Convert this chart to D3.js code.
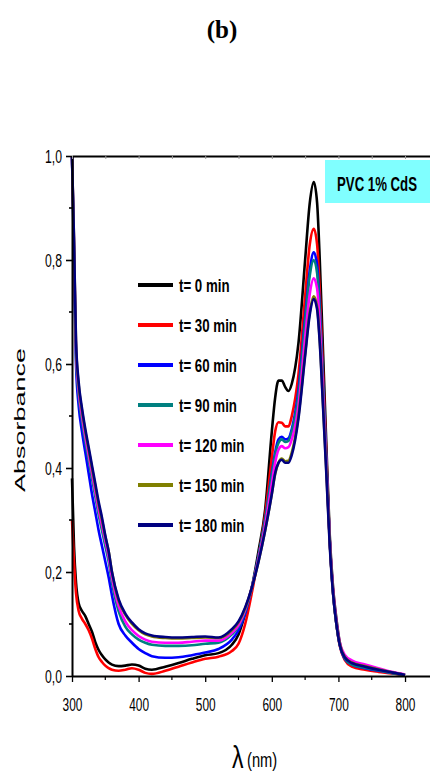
<!DOCTYPE html>
<html>
<head>
<meta charset="utf-8">
<script src="https://cdn.jsdelivr.net/npm/d3@7"></script>
<style>
  html, body { margin: 0; padding: 0; background: #fff; }
  svg { display: block; }
</style>
</head>
<body>
<svg id="chart" width="430" height="776"></svg>
<script>
// Wavelength grid (nm) shared by every spectrum
const wavelengths = [300,303,306,310,315,320,325,330,335,340,345,350,355,360,370,380,390,400,410,420,440,460,480,500,520,540,550,560,570,580,590,600,605,610,615,620,625,630,640,650,657,663,668,672,677,682,687,692,697,702,710,720,740,760,780,800];

const seriesNames = ["t= 0 min","t= 30 min","t= 60 min","t= 90 min","t= 120 min","t= 150 min","t= 180 min"];
const seriesColors = ["#000000","#ff0000","#0000ff","#008080","#ff00ff","#808000","#000080"];

const abs0 = [0.38,0.25,0.18,0.14,0.125,0.115,0.10,0.085,0.065,0.05,0.04,0.032,0.026,0.022,0.019,0.02,0.022,0.02,0.014,0.012,0.018,0.025,0.033,0.04,0.044,0.06,0.08,0.12,0.17,0.24,0.32,0.47,0.535,0.568,0.568,0.556,0.548,0.562,0.64,0.80,0.91,0.95,0.91,0.80,0.62,0.44,0.27,0.17,0.11,0.065,0.035,0.025,0.017,0.012,0.007,0.002];
const abs30 = [0.30,0.22,0.16,0.125,0.11,0.10,0.088,0.072,0.052,0.036,0.027,0.02,0.015,0.012,0.01,0.012,0.015,0.012,0.006,0.004,0.01,0.018,0.026,0.033,0.037,0.048,0.062,0.10,0.16,0.23,0.31,0.42,0.47,0.488,0.487,0.48,0.48,0.50,0.58,0.73,0.83,0.86,0.83,0.74,0.58,0.42,0.26,0.16,0.10,0.058,0.03,0.018,0.012,0.008,0.005,0.001];
const abs60 = [1.0,0.80,0.60,0.52,0.47,0.43,0.39,0.35,0.315,0.28,0.25,0.22,0.19,0.155,0.10,0.078,0.064,0.052,0.044,0.038,0.035,0.036,0.04,0.045,0.052,0.07,0.088,0.12,0.17,0.23,0.30,0.39,0.43,0.455,0.46,0.455,0.457,0.475,0.55,0.69,0.78,0.815,0.79,0.71,0.56,0.41,0.26,0.16,0.10,0.06,0.032,0.022,0.015,0.01,0.006,0.002];
const abs90 = [1.0,0.82,0.62,0.54,0.49,0.45,0.415,0.38,0.345,0.31,0.28,0.25,0.22,0.18,0.125,0.095,0.08,0.07,0.064,0.06,0.058,0.058,0.059,0.062,0.064,0.08,0.095,0.125,0.17,0.23,0.30,0.385,0.425,0.448,0.455,0.45,0.452,0.47,0.54,0.68,0.77,0.80,0.775,0.70,0.555,0.41,0.26,0.16,0.10,0.06,0.033,0.022,0.016,0.011,0.006,0.002];
const abs120 = [1.0,0.83,0.63,0.55,0.50,0.46,0.425,0.39,0.355,0.32,0.29,0.26,0.23,0.19,0.135,0.105,0.088,0.077,0.07,0.066,0.064,0.064,0.066,0.068,0.068,0.083,0.098,0.128,0.17,0.225,0.29,0.37,0.41,0.435,0.442,0.438,0.44,0.455,0.52,0.65,0.735,0.765,0.745,0.675,0.54,0.40,0.26,0.165,0.105,0.065,0.04,0.03,0.022,0.015,0.008,0.003];
const abs150 = [1.0,0.84,0.64,0.56,0.51,0.47,0.435,0.40,0.365,0.33,0.30,0.268,0.24,0.20,0.145,0.118,0.10,0.088,0.08,0.076,0.073,0.072,0.073,0.074,0.073,0.088,0.103,0.13,0.17,0.22,0.28,0.35,0.388,0.41,0.418,0.413,0.414,0.43,0.50,0.62,0.70,0.73,0.71,0.645,0.52,0.39,0.255,0.16,0.10,0.062,0.036,0.026,0.019,0.013,0.007,0.002];
const abs180 = [1.0,0.84,0.645,0.565,0.515,0.475,0.44,0.405,0.37,0.335,0.305,0.27,0.24,0.20,0.148,0.12,0.103,0.09,0.082,0.078,0.075,0.074,0.075,0.076,0.074,0.09,0.105,0.132,0.17,0.22,0.28,0.35,0.39,0.41,0.416,0.41,0.41,0.425,0.495,0.615,0.695,0.725,0.705,0.64,0.515,0.385,0.25,0.158,0.10,0.06,0.035,0.025,0.018,0.012,0.007,0.002];

const seriesValues = [abs0, abs30, abs60, abs90, abs120, abs150, abs180];

const xMajorTicks = [300,400,500,600,700,800];
const xMinorTicks = [350,450,550,650,750];
const yMajorTicks = [0,0.2,0.4,0.6,0.8,1.0];
const yMinorTicks = [0.1,0.3,0.5,0.7,0.9];

const svg = d3.select("#chart");
const plotLeft = 72, plotRight = 430, plotTop = 156, plotBottom = 676;

const x = d3.scaleLinear().domain([300, 837.5]).range([plotLeft, plotRight]);
const y = d3.scaleLinear().domain([0, 1]).range([plotBottom, plotTop]);

const sans = "'Liberation Sans',Arial,Helvetica,sans-serif";
const narrow = 0.66;   // horizontal squeeze for the condensed lettering
const commaFmt = d => d3.format(".1f")(d).replace(".", ",");

// Condensed text placed at (px, py)
function narrowText(parent, px, py, str, opts = {}) {
  const g = parent.append("g")
    .attr("transform", `translate(${px},${py}) scale(${opts.sx || narrow},1)`);
  return g.append("text")
    .attr("text-anchor", opts.anchor || "start")
    .attr("font-family", sans)
    .attr("font-weight", opts.weight || "normal")
    .attr("font-size", opts.size || 16)
    .attr("fill", "#000")
    .text(str);
}

// Title
svg.append("text")
  .attr("x", 222).attr("y", 38)
  .attr("text-anchor", "middle")
  .attr("font-family", "'Liberation Serif','Times New Roman',serif")
  .attr("font-weight", "bold").attr("font-size", 25)
  .text("(b)");

// Spectra
const line = d3.line()
  .x((d, i) => x(wavelengths[i]))
  .y(d => y(d))
  .curve(d3.curveMonotoneX);

svg.append("g").selectAll("path")
  .data(seriesValues)
  .join("path")
  .attr("d", d => line(d))
  .attr("fill", "none")
  .attr("stroke", (d, i) => seriesColors[i])
  .attr("stroke-width", 2.6)
  .attr("stroke-linejoin", "round");

// Bottom axis
const gx = svg.append("g").attr("transform", `translate(0,${plotBottom})`)
  .call(d3.axisBottom(x).tickValues(xMajorTicks).tickSize(6).tickSizeOuter(0).tickPadding(10));
gx.select(".domain").attr("stroke-width", 2.2);
gx.selectAll(".tick line").attr("stroke-width", 1.3);
gx.selectAll(".tick text")
  .attr("font-family", sans).attr("font-size", 18).attr("fill", "#000")
  .attr("y", 0).attr("dy", 0)
  .attr("transform", `translate(0,35) scale(${narrow},1)`);
gx.append("g").selectAll("line").data(xMinorTicks).join("line")
  .attr("x1", d => x(d)).attr("x2", d => x(d))
  .attr("y1", 0).attr("y2", 4).attr("stroke", "#000").attr("stroke-width", 1.2);

// Left axis
const gy = svg.append("g").attr("transform", `translate(${plotLeft},0)`)
  .call(d3.axisLeft(y).tickValues(yMajorTicks).tickFormat(commaFmt).tickSize(6).tickSizeOuter(0));
gy.select(".domain").attr("stroke-width", 2);
gy.selectAll(".tick line").attr("stroke-width", 1.6);
gy.selectAll(".tick text")
  .attr("font-family", sans).attr("font-size", 18.5).attr("fill", "#000")
  .attr("x", 0).attr("dy", 0)
  .attr("transform", `translate(-10,6.5) scale(${narrow},1)`);
gy.append("g").selectAll("line").data(yMinorTicks).join("line")
  .attr("x1", 0).attr("x2", -3)
  .attr("y1", d => y(d)).attr("y2", d => y(d)).attr("stroke", "#000").attr("stroke-width", 1.6);

// Top frame line with small inner ticks
const gt = svg.append("g").attr("transform", `translate(0,${plotTop})`)
  .call(d3.axisTop(x).tickValues(xMajorTicks.concat(xMinorTicks)).tickSize(-3).tickSizeOuter(0).tickFormat(""));
gt.select(".domain").attr("stroke-width", 2.2);
gt.selectAll(".tick line").attr("stroke", "#999").attr("stroke-width", 1);

// Axis titles
svg.append("g")
  .attr("transform", `translate(25,${(plotTop + plotBottom) / 2 + 4}) rotate(-90) scale(1,0.55)`)
  .append("text")
  .attr("text-anchor", "middle")
  .attr("font-family", sans)
  .attr("font-size", 27)
  .text("Absorbance");

narrowText(svg, 232, 768, "λ", { size: 32, sx: 0.72 });
narrowText(svg, 247, 767, "(nm)", { size: 21, sx: 0.7 });

// Legend
const legend = svg.append("g");
seriesNames.forEach((name, i) => {
  const ly = 285 + i * 40;
  legend.append("line")
    .attr("x1", 138).attr("x2", 173).attr("y1", ly).attr("y2", ly)
    .attr("stroke", seriesColors[i]).attr("stroke-width", 3.8);
  narrowText(legend, 179, ly + 7, name, { size: 19, weight: "bold", sx: 0.7 });
});

// Sample label box
svg.append("rect")
  .attr("x", 325).attr("y", 160).attr("width", 110).attr("height", 43)
  .attr("fill", "#80ffff");
narrowText(svg, 377, 191, "PVC 1% CdS", { size: 20, weight: "bold", anchor: "middle", sx: 0.66 });
</script>
</body>
</html>
